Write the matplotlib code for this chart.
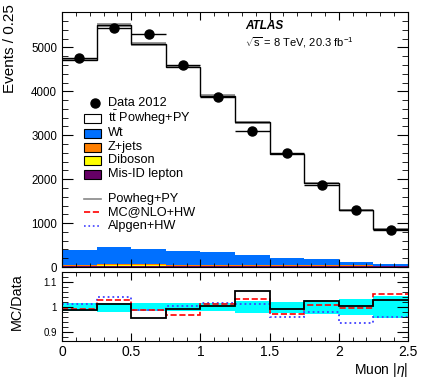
import numpy as np
import matplotlib
matplotlib.use("Agg")
import matplotlib.pyplot as plt
from matplotlib.patches import Rectangle
from matplotlib.lines import Line2D
from matplotlib.ticker import MultipleLocator, FormatStrFormatter

plt.rcParams['font.family'] = ['Liberation Sans', 'DejaVu Sans']
plt.rcParams['mathtext.fontset'] = 'custom'
plt.rcParams['mathtext.rm'] = 'Liberation Sans'
plt.rcParams['mathtext.it'] = 'Liberation Sans:italic'
plt.rcParams['mathtext.bf'] = 'Liberation Sans:bold'

# binning in muon |eta|
edges = [0.0, 0.25, 0.5, 0.75, 1.0, 1.25, 1.5, 1.75, 2.0, 2.25, 2.5]

# data (events / 0.25)
data = [4770, 5450, 5300, 4600, 3880, 3100, 2590, 1865, 1290, 842]

# backgrounds (stacked from bottom)
misid = [25, 30, 30, 25, 25, 25, 20, 20, 20, 15]
diboson = [5, 5, 5, 5, 5, 5, 5, 5, 5, 5]
zjets = [15, 30, 30, 20, 15, 20, 15, 15, 25, 10]
wt = [345, 395, 335, 315, 305, 220, 160, 135, 65, 45]

# total prediction with ttbar Powheg+PY
total_mc = [4722, 5521, 5077, 4563, 3899, 3295, 2574, 1910, 1296, 867]
mc_unc = [40, 45, 40, 35, 30, 30, 25, 20, 15, 12]

# ratios MC/Data
r_powheg = [0.990, 1.013, 0.958, 0.992, 1.005, 1.063, 0.994, 1.024, 1.005, 1.030]
r_mcatnlo = [0.992, 1.027, 0.990, 0.970, 1.012, 1.032, 0.973, 1.010, 0.998, 1.053]
r_alpgen = [1.012, 1.039, 0.987, 1.005, 1.015, 1.012, 0.960, 0.980, 0.935, 0.960]
# data uncertainty band (relative)
band = [0.017, 0.018, 0.016, 0.016, 0.017, 0.024, 0.022, 0.028, 0.032, 0.045]

c_wt = '#0070ff'
c_z = '#ff7f00'
c_db = '#ffff00'
c_mis = '#660066'

W, H = 425, 391
fig = plt.figure(figsize=(W/100, H/100), dpi=100)
ax = fig.add_axes([62/W, 1-267/H, 346/W, (267-12.3)/H])
axr = fig.add_axes([62/W, 1-341/H, 346/W, (341-272)/H])

def fx(px):
    return px/W

def fy(py):
    return 1 - py/H

edges = np.array(edges)
centers = 0.5*(edges[1:]+edges[:-1])

# stack
base = np.zeros(len(data))
for vals, col in [(misid, c_mis), (diboson, c_db), (zjets, c_z), (wt, c_wt)]:
    top = base + np.array(vals)
    ax.stairs(top, edges, baseline=base, fill=True, color=col, lw=0)
    base = top
ax.stairs(total_mc, edges, baseline=base, fill=True, color='white', lw=0)
lo = np.array(total_mc) - np.array(mc_unc)
hi = np.array(total_mc) + np.array(mc_unc)
ax.stairs(hi, edges, baseline=lo, fill=True, color='#9a9a9a', lw=0)
ax.stairs(total_mc, edges, color='black', lw=1.0, baseline=None)

ax.errorbar(centers, data, xerr=0.125, fmt='o', color='black', ms=6.5, lw=1.0, capsize=0)

ax.set_xlim(0, 2.5)
ax.set_ylim(0, 5800)
ax.xaxis.set_major_locator(MultipleLocator(0.5))
ax.xaxis.set_minor_locator(MultipleLocator(0.1))
ax.yaxis.set_major_locator(MultipleLocator(1000))
ax.yaxis.set_minor_locator(MultipleLocator(200))
ax.tick_params(which='both', direction='in', top=True, right=True, labelbottom=False, labelsize=8.3)
ax.tick_params(axis='y', which='major', length=8)
ax.tick_params(axis='y', which='minor', length=4)
ax.tick_params(axis='x', which='major', length=6)
ax.tick_params(axis='x', which='minor', length=3)
fig.text(fx(10), fy(4), 'Events / 0.25', rotation=90, va='top', ha='center', fontsize=11)

ax.text(0.53, 0.935, 'ATLAS', transform=ax.transAxes, fontsize=8.5, fontweight='bold', style='italic')
ax.text(0.53, 0.866, r'$\sqrt{\rm s}$ = 8 TeV, 20.3 fb$^{-1}$', transform=ax.transAxes, fontsize=8)

# legend drawn by hand (ROOT-like layout)
leg_fs = 9.2
rows = [103, 118, 133, 147, 160, 174, 199, 212, 226]
labels = ['Data 2012', r'$\mathrm{t\bar{t}}$ Powheg+PY', 'Wt', 'Z+jets', 'Diboson',
          'Mis-ID lepton', 'Powheg+PY', 'MC@NLO+HW', 'Alpgen+HW']
for yrow, lab in zip(rows, labels):
    fig.text(fx(108), fy(yrow), lab, va='center', ha='left', fontsize=leg_fs)
fig.add_artist(Line2D([fx(95)], [fy(rows[0])], marker='o', color='black', ms=6.5, ls='none'))
for yrow, col in zip(rows[1:6], ['white', c_wt, c_z, c_db, c_mis]):
    fig.add_artist(Rectangle((fx(84), fy(yrow + 4.5)), fx(16.5), 9/H, facecolor=col,
                             edgecolor='black', lw=0.8, transform=fig.transFigure))
for yrow, col, ls in zip(rows[6:], ['#888888', 'red', '#4040ff'], ['-', '--', ':']):
    fig.add_artist(Line2D([fx(84), fx(101)], [fy(yrow), fy(yrow)], color=col, ls=ls, lw=1.2))

# ratio panel
one = np.ones(len(band))
axr.stairs(one + np.array(band), edges, baseline=one - np.array(band), fill=True, color='#00ffff', lw=0)
axr.stairs(r_alpgen, edges, color='#4040ff', ls=':', lw=1.3, baseline=None)
axr.stairs(r_mcatnlo, edges, color='red', ls='--', lw=1.2, baseline=None)
axr.stairs(r_powheg, edges, color='black', lw=1.3, baseline=None)
axr.set_xlim(0, 2.5)
axr.set_ylim(0.865, 1.14)
axr.xaxis.set_major_locator(MultipleLocator(0.5))
axr.xaxis.set_minor_locator(MultipleLocator(0.1))
axr.xaxis.set_major_formatter(FormatStrFormatter('%g'))
axr.yaxis.set_minor_locator(MultipleLocator(0.02))
axr.set_yticks([0.9, 1.0, 1.1])
axr.set_yticklabels(['0.9', '1', '1.1'])
axr.tick_params(which='both', direction='in', top=True, right=True)
axr.tick_params(axis='x', labelsize=10, which='major', length=6, pad=3)
axr.tick_params(axis='x', which='minor', length=3)
axr.tick_params(axis='y', labelsize=7, which='major', length=8)
axr.tick_params(axis='y', which='minor', length=4)
fig.text(fx(17), fy(302), 'MC/Data', rotation=90, va='center', ha='center', fontsize=10.4)
fig.text(fx(408), fy(361), r'Muon |$\eta$|', va='top', ha='right', fontsize=10)

fig.savefig('out.png', dpi=100)
